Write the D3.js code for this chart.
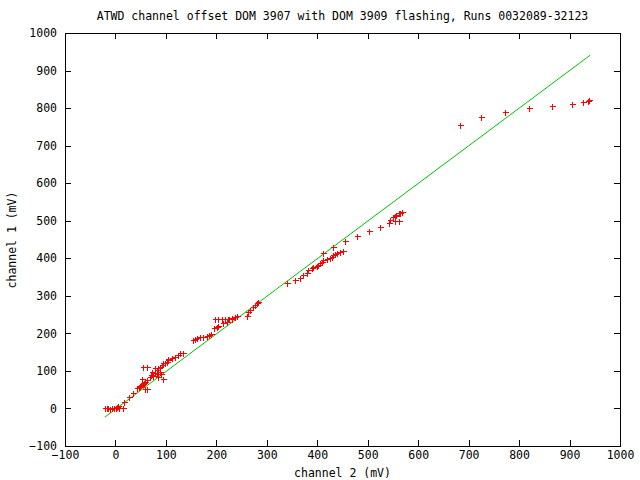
<!DOCTYPE html>
<html><head><meta charset="utf-8">
<script src="https://cdn.jsdelivr.net/npm/d3@7"></script>
<style>
html,body{margin:0;padding:0;background:#fff;}
text{font-family:"DejaVu Sans Mono","Liberation Mono",monospace;font-size:11.5px;fill:#000;}
</style></head>
<body>
<svg id="c" width="640" height="480"></svg>
<script>
const titleText = "ATWD channel offset DOM 3907 with DOM 3909 flashing, Runs 0032089-32123";
const xLabel = "channel 2 (mV)";
const yLabel = "channel 1 (mV)";
const xTicks = [-100,0,100,200,300,400,500,600,700,800,900,1000];
const yTicks = [-100,0,100,200,300,400,500,600,700,800,900,1000];

// channel 2 (x) and channel 1 (y) readings
const ch2 = [-20,-17,-14,-10,-7,-2,1,4,8,15,
  6,16,26,35,
  43,46,49,51,54,57,59,63,63,58,52,68,55,62,72,78,82,85,88,92,95,98,102,105,75,82,88,85,95,90,78,70,
  105,112,118,123,128,133,
  154,158,161,168,174,181,185,189,
  195,201,204,
  197,204,211,217,224,230,
  213,221,226,230,237,240,
  261,263,267,273,277,280,283,
  340,356,366,371,379,382,389,392,399,402,405,409,412,419,425,429,432,435,439,445,450,412,432,454,
  478,503,524,543,544,551,554,557,561,564,567,555,561,
  682,725,773,820,866,904,927,939,936];
const ch1 = [0,0,0,-1,0,0,1,3,0,0,
  6,18,31,42,
  54,56,60,62,65,69,71,76,51,52,78,83,111,111,98,107,102,107,111,116,120,122,124,129,86,92,98,85,79,93,95,90,
  131,135,138,142,147,148,
  182,185,187,190,191,194,196,198,
  214,218,220,
  238,238,238,238,238,238,
  227,231,238,240,244,247,
  247,258,262,271,276,280,284,
  334,342,347,356,360,369,373,378,379,382,387,391,395,397,400,404,409,411,415,418,419,413,429,446,
  459,473,483,493,502,509,513,515,520,521,524,498,500,
  754,776,790,799,806,811,816,821,818];

// fitted line end points
const fitX = [-21, 941];
const fitY = [-23, 941];

const svg = d3.select("#c");
const L = 65, R = 620, T = 33, B = 446;
const x = d3.scaleLinear().domain([-100,1000]).range([L,R]);
const y = d3.scaleLinear().domain([-100,1000]).range([B,T]);

// fit line
svg.append("path")
  .datum(fitX.map((v,i)=>[v,fitY[i]]))
  .attr("fill","none").attr("stroke","#00c000").attr("stroke-width",1)
  .attr("d", d3.line().x(d=>x(d[0])).y(d=>y(d[1])));

// points
const pts = ch2.map((v,i)=>[v,ch1[i]]);
const g = svg.append("g").attr("stroke","#ff0000").attr("stroke-width",1).attr("shape-rendering","crispEdges");
g.selectAll("path.p").data(pts).enter().append("path")
  .attr("d", d=>{const cx=Math.round(x(d[0]))+0.5, cy=Math.round(y(d[1]))+0.5;
    return `M${cx-3},${cy}H${cx+3}M${cx},${cy-3}V${cy+3}`;});

// axes (ticks inward, mirrored)
const tl = 6;
const ax = svg.append("g").attr("shape-rendering","crispEdges");
ax.append("g").attr("transform",`translate(0,${B})`)
  .call(d3.axisBottom(x).tickValues(xTicks).tickSize(-tl).tickPadding(5).tickFormat(d3.format("d")));
ax.append("g").attr("transform",`translate(0,${T})`)
  .call(d3.axisTop(x).tickValues(xTicks).tickSize(-tl).tickFormat(""));
ax.append("g").attr("transform",`translate(${L},0)`)
  .call(d3.axisLeft(y).tickValues(yTicks).tickSize(-tl).tickPadding(8).tickFormat(d3.format("d")));
ax.append("g").attr("transform",`translate(${R},0)`)
  .call(d3.axisRight(y).tickValues(yTicks).tickSize(-tl).tickFormat(""));
ax.selectAll(".domain").remove();
ax.selectAll("line").attr("stroke","#000");
ax.selectAll("text").attr("font-family",null).attr("font-size",null).style("fill","#000");
svg.append("rect").attr("x",L+0.5).attr("y",T+0.5).attr("width",R-L).attr("height",B-T)
  .attr("fill","none").attr("stroke","#000").attr("shape-rendering","crispEdges");

svg.append("text").attr("x",(L+R)/2).attr("y",20).attr("text-anchor","middle").text(titleText);
svg.append("text").attr("x",(L+R)/2).attr("y",477).attr("text-anchor","middle").text(xLabel);
svg.append("text").attr("transform","translate(16,240) rotate(-90)").attr("text-anchor","middle").text(yLabel);
</script>
</body></html>
